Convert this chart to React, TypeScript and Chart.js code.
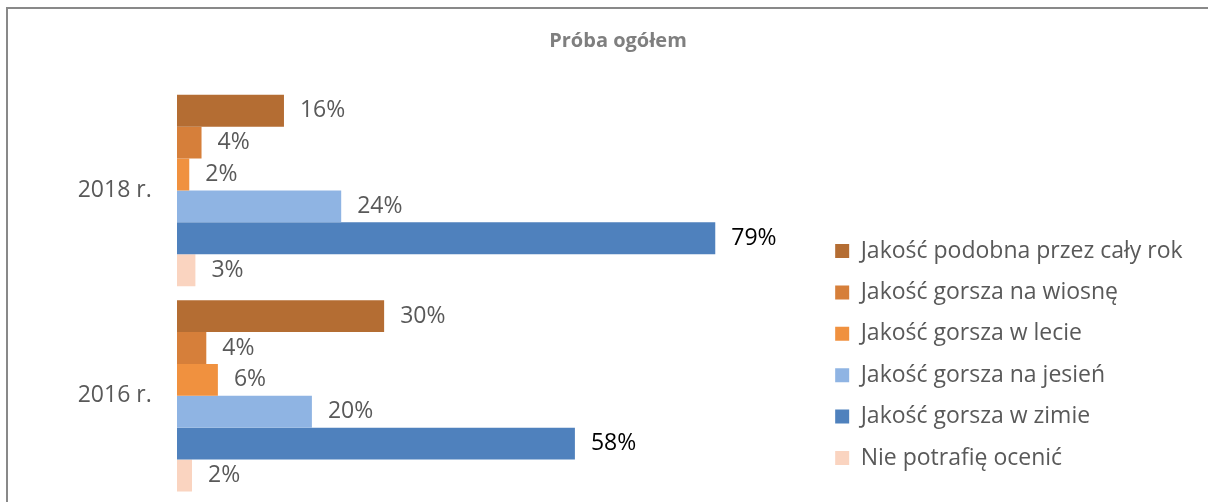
import React, { useEffect, useRef } from 'react';
import { Chart, registerables } from 'chart.js';

Chart.register(...registerables);

const categories = ['2018 r.', '2016 r.'];
const seriesNames = [
  'Jakość podobna przez cały rok',
  'Jakość gorsza na wiosnę',
  'Jakość gorsza w lecie',
  'Jakość gorsza na jesień',
  'Jakość gorsza w zimie',
  'Nie potrafię ocenić',
];
const podobna = [15.7, 30.4];
const wiosna = [3.6, 4.3];
const lato = [1.8, 6.0];
const jesien = [24.1, 19.8];
const zima = [79.0, 58.4];
const nieWiem = [2.7, 2.2];
const seriesValues = [podobna, wiosna, lato, jesien, zima, nieWiem];
const seriesColors = ['#B46D33', '#D67F3A', '#F0913F', '#8FB4E3', '#4F81BD', '#FAD4C0'];
const labelColors = ['#595959', '#595959', '#595959', '#595959', '#000000', '#595959'];
const titleText = 'Próba ogółem';

const FONT = "'Open Sans', sans-serif";
const W = 1224;
const H = 510;

const valueLabels = {
  id: 'valueLabels',
  afterDatasetsDraw(chart: any) {
    const ctx = chart.ctx;
    ctx.save();
    ctx.font = `23px ${FONT}`;
    ctx.textBaseline = 'middle';
    ctx.textAlign = 'left';
    chart.data.datasets.forEach((ds: any, i: number) => {
      const meta = chart.getDatasetMeta(i);
      meta.data.forEach((bar: any, j: number) => {
        ctx.fillStyle = labelColors[i];
        ctx.fillText(Math.round(ds.data[j]) + '%', bar.x + 16, bar.y);
      });
    });
    ctx.restore();
  },
};

export default function App() {
  const ref = useRef<HTMLCanvasElement | null>(null);
  useEffect(() => {
    if (!ref.current) return;
    const chart = new Chart(ref.current, {
      type: 'bar',
      data: {
        labels: categories,
        datasets: seriesNames.map((name, i) => ({
          label: name,
          data: seriesValues[i],
          backgroundColor: seriesColors[i],
          borderWidth: 0,
          categoryPercentage: 0.932,
          barPercentage: 1,
        })),
      },
      options: {
        indexAxis: 'y',
        animation: false,
        responsive: false,
        events: [],
        layout: { padding: { left: 35.4, right: 39.4, top: 0, bottom: 20.5 } },
        scales: {
          x: { display: false, min: 0, max: 93.9 },
          y: {
            grid: { display: false, drawTicks: false },
            border: { display: false },
            ticks: { color: '#595959', font: { family: FONT, size: 23 }, padding: 25.3 },
            afterFit: (s: any) => {
              s.width = 133.6;
              s.paddingTop = 0;
              s.paddingBottom = 0;
            },
          },
        },
        plugins: {
          title: {
            display: true,
            text: titleText,
            color: '#7F7F7F',
            font: { family: FONT, size: 20, weight: 'bold' },
            padding: { top: 19.8, bottom: 35 },
          },
          legend: {
            position: 'right',
            align: 'start',
            maxWidth: 600,
            title: { display: true, text: '', padding: { top: 197.7, bottom: 0 } },
            labels: {
              boxWidth: 14,
              boxHeight: 14,
              padding: 18.4,
              color: '#595959',
              font: { family: FONT, size: 23 },
            },
          },
          tooltip: { enabled: false },
        },
      },
      plugins: [valueLabels],
    } as any);
    return () => chart.destroy();
  }, []);

  return (
    <div
      style={{
        position: 'fixed',
        left: 6,
        top: 7,
        width: W,
        height: H,
        border: '2px solid #898989',
        background: '#fff',
      }}
    >
      <canvas ref={ref} width={W} height={H} style={{ display: 'block', width: W, height: H }} />
    </div>
  );
}
